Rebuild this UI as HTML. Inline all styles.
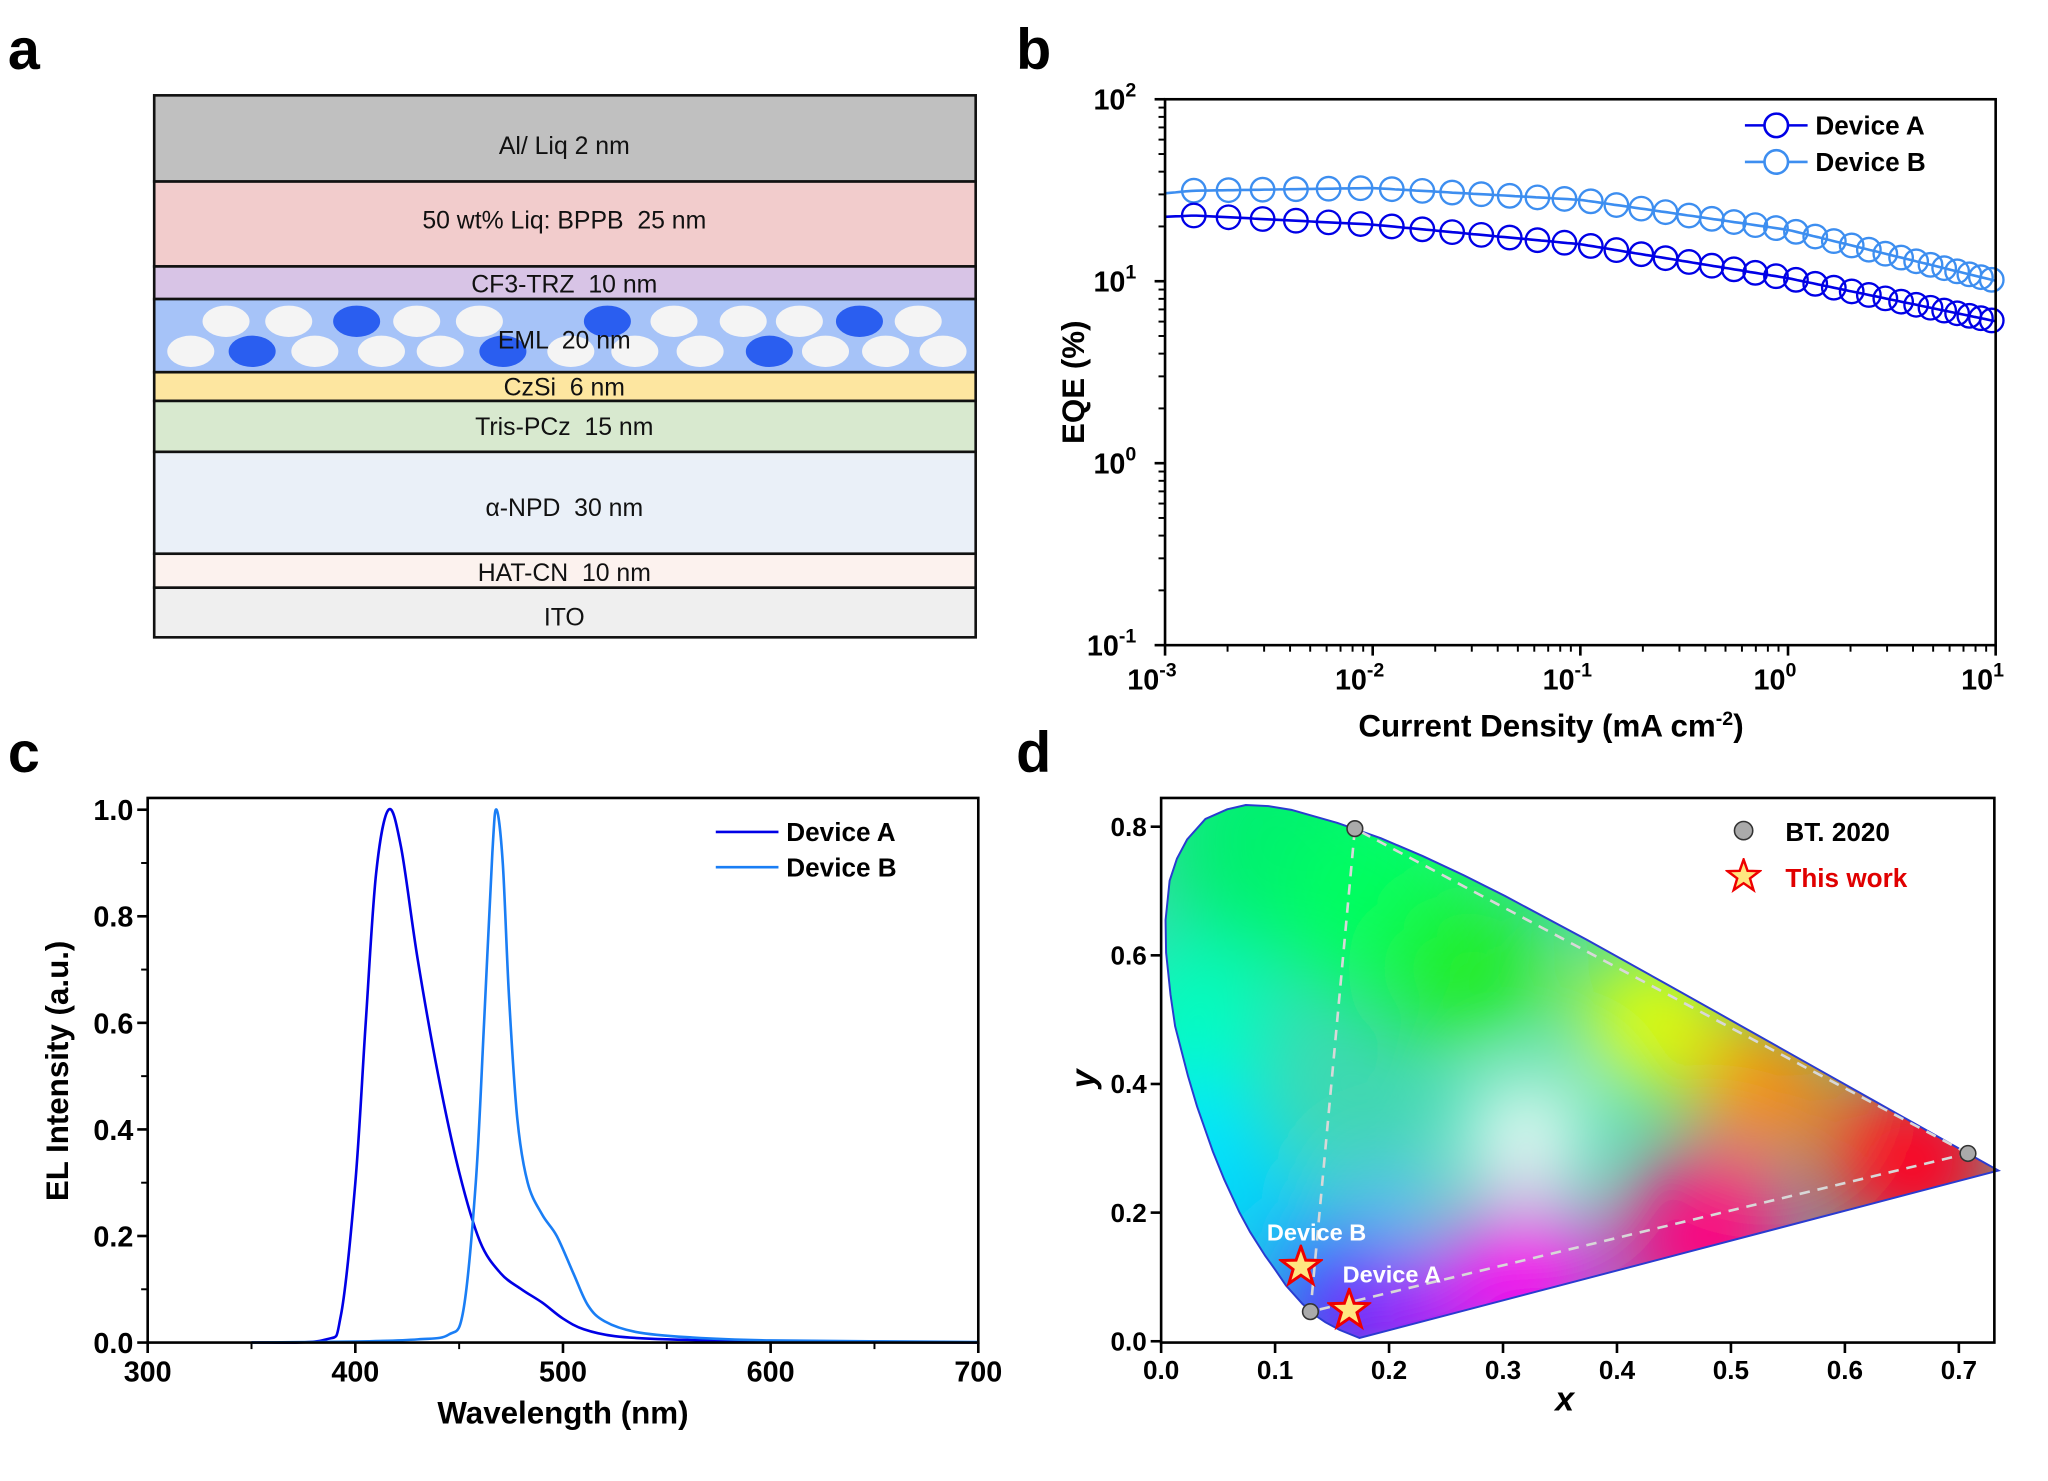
<!DOCTYPE html>
<html><head><meta charset="utf-8"><style>
html,body{margin:0;padding:0;background:#fff}
svg{display:block}
text{font-family:"Liberation Sans",Arial,sans-serif}
</style></head><body>
<svg id="s" width="2048" height="1481" viewBox="0 0 1568 1134" xmlns="http://www.w3.org/2000/svg">
<defs>
<filter id="bl" x="-50%" y="-50%" width="200%" height="200%"><feGaussianBlur stdDeviation="32"/></filter>
<clipPath id="cp"><polygon id="locusClip" points=""/></clipPath>
<symbol id="star" viewBox="-12 -12 24 24"><polygon points="0,-11 2.6,-3.6 10.5,-3.4 4.2,1.4 6.5,9 0,4.5 -6.5,9 -4.2,1.4 -10.5,-3.4 -2.6,-3.6"/></symbol>
</defs>
<g font-weight="bold" font-size="44"><text x="6" y="53">a</text><text x="778" y="53">b</text><text x="6" y="591">c</text><text x="778" y="591">d</text></g>

<g stroke="#111" stroke-width="2" font-size="19" text-anchor="middle">
<rect x="118" y="73" width="629" height="66" fill="#c0c0c0"/>
<rect x="118" y="139" width="629" height="65" fill="#f2cccc"/>
<rect x="118" y="204" width="629" height="25" fill="#d8c4e6"/>
<rect x="118" y="229" width="629" height="56" fill="#a6c3f8"/>
<rect x="118" y="285" width="629" height="22" fill="#fde6a0"/>
<rect x="118" y="307" width="629" height="39" fill="#d8e9cf"/>
<rect x="118" y="346" width="629" height="78" fill="#eaf0f8"/>
<rect x="118" y="424" width="629" height="26" fill="#fcf2ee"/>
<rect x="118" y="450" width="629" height="38" fill="#efefef"/>
</g>
<g id="eml" stroke="none"></g>
<g font-size="19" text-anchor="middle" fill="#111" style="white-space:pre">
<text x="432" y="118">Al/ Liq 2 nm</text>
<text x="432" y="175" xml:space="preserve">50 wt% Liq: BPPB  25 nm</text>
<text x="432" y="224" xml:space="preserve">CF3-TRZ  10 nm</text>
<text x="432" y="267" xml:space="preserve">EML  20 nm</text>
<text x="432" y="303" xml:space="preserve">CzSi  6 nm</text>
<text x="432" y="333" xml:space="preserve">Tris-PCz  15 nm</text>
<text x="432" y="395" xml:space="preserve">α-NPD  30 nm</text>
<text x="432" y="445" xml:space="preserve">HAT-CN  10 nm</text>
<text x="432" y="479">ITO</text>
</g>

<g id="pb"></g>
<rect x="892" y="76" width="636" height="418" fill="none" stroke="#000" stroke-width="2"/>
<g font-weight="bold" font-size="21">
<text x="1040" y="564" font-size="24">Current Density (mA cm<tspan dy="-9" font-size="15">-2</tspan><tspan dy="9">)</tspan></text>
<text transform="translate(830,340) rotate(-90)" font-size="24">EQE (%)</text>
<line x1="1336" y1="96" x2="1384" y2="96" stroke="#0000e6" stroke-width="2"/><circle cx="1360" cy="96" r="9" fill="#fff" stroke="#0000e6" stroke-width="2"/>
<text x="1390" y="103" font-size="20">Device A</text>
<line x1="1336" y1="124" x2="1384" y2="124" stroke="#3d8ef0" stroke-width="2"/><circle cx="1360" cy="124" r="9" fill="#fff" stroke="#3d8ef0" stroke-width="2"/>
<text x="1390" y="131" font-size="20">Device B</text>
</g>

<g id="pc"></g>
<rect x="113" y="611" width="636" height="417" fill="none" stroke="#000" stroke-width="2"/>
<g font-weight="bold">
<text x="431" y="1090" font-size="24" text-anchor="middle">Wavelength (nm)</text>
<text transform="translate(52,820) rotate(-90)" font-size="24" text-anchor="middle">EL Intensity (a.u.)</text>
<line x1="548" y1="637" x2="596" y2="637" stroke="#0000e6" stroke-width="2"/><text x="602" y="644" font-size="20">Device A</text>
<line x1="548" y1="664" x2="596" y2="664" stroke="#1a7ef5" stroke-width="2"/><text x="602" y="671" font-size="20">Device B</text>
</g>

<g clip-path="url(#cp)">
<rect x="880" y="600" width="660" height="440" fill="#40d8b0"/>
<g filter="url(#bl)" id="blobs"></g>
</g>
<polygon id="locusLine" fill="none" stroke="#2a3bd0" stroke-width="1.5" points=""/>
<g id="pd"></g>
<rect x="889" y="611" width="638" height="417" fill="none" stroke="#000" stroke-width="2"/>
<g font-weight="bold">
<text x="1198" y="1080" font-size="26" font-style="italic" text-anchor="middle">x</text>
<text transform="translate(838,826) rotate(-90)" font-size="26" font-style="italic" text-anchor="middle">y</text>
<circle cx="1335" cy="636" r="7" fill="#aaa" stroke="#333" stroke-width="1.2"/>
<text x="1367" y="644" font-size="20">BT. 2020</text>
<use href="#star" x="1321" y="657" width="28" height="28" fill="#ffe680" stroke="#e00" stroke-width="1.6"/>
<text x="1367" y="679" font-size="20" fill="#e00000">This work</text>
<text x="970" y="950" font-size="18" fill="#fff">Device B</text>
<text x="1028" y="982" font-size="18" fill="#fff">Device A</text>
</g>
</svg>
<script>
const NS="http://www.w3.org/2000/svg";
function el(p,t,a,txt){const e=document.createElementNS(NS,t);for(const k in a)e.setAttribute(k,a[k]);if(txt!==undefined)e.textContent=txt;p.appendChild(e);return e;}
const eml=document.getElementById('eml');
[[173,0],[221,0],[273,1],[319,0],[367,0],[465,1],[516,0],[569,0],[612,0],[658,1],[703,0]].forEach(c=>el(eml,'ellipse',{cx:c[0],cy:246,rx:18,ry:12,fill:c[1]?'#2a5ef0':'#f4f4f4'}));
[[146,0],[193,1],[241,0],[292,0],[337,0],[385,1],[437,0],[486,0],[536,0],[589,1],[632,0],[678,0],[722,0]].forEach(c=>el(eml,'ellipse',{cx:c[0],cy:269,rx:18,ry:12,fill:c[1]?'#2a5ef0':'#f4f4f4'}));
const pb=document.getElementById('pb');
const bx=d=>892+(d+3)*159, by=d=>76+(2-d)*139.33;
for(let d=-3;d<=1;d++){const x=bx(d);el(pb,'line',{x1:x,y1:494,x2:x,y2:502,stroke:'#000','stroke-width':2});
 const t=el(pb,'text',{x:x-10,y:528,'font-size':22,'font-weight':'bold','text-anchor':'middle'},'10');el(t,'tspan',{dy:-10,'font-size':15},String(d));
 if(d<1)for(let m=2;m<10;m++){const xm=bx(d+Math.log10(m));el(pb,'line',{x1:xm,y1:494,x2:xm,y2:499,stroke:'#000','stroke-width':1.5});}}
for(let d=-1;d<=2;d++){const y=by(d);el(pb,'line',{x1:884,y1:y,x2:892,y2:y,stroke:'#000','stroke-width':2});
 const t=el(pb,'text',{x:870,y:y+8,'font-size':22,'font-weight':'bold','text-anchor':'end'},'10');el(t,'tspan',{dy:-10,'font-size':15},String(d));
 if(d<2)for(let m=2;m<10;m++){const ym=by(d+Math.log10(m));el(pb,'line',{x1:887,y1:ym,x2:892,y2:ym,stroke:'#000','stroke-width':1.5});}}
function interp(pts,x){for(let i=0;i<pts.length-1;i++){if(x<=pts[i+1][0]){const t=(x-pts[i][0])/(pts[i+1][0]-pts[i][0]);return pts[i][1]+t*(pts[i+1][1]-pts[i][1]);}}return pts[pts.length-1][1];}
const A=[[892,166],[914,165],[1051,172],[1210,187],[1369,213],[1528,246]];
const B=[[892,148],[914,146],[1051,144],[1210,153],[1369,176],[1528,215]];
function series(P,col){const n=36,a=0.46;let xs=[];for(let i=0;i<n;i++){const s=i/(n-1);xs.push(914+611*(a*s+(1-a)*(1-(1-s)*(1-s))));}
 let d='M892,'+interp(P,892);for(let x=892;x<=1528;x+=4)d+=' L'+x+','+interp(P,x).toFixed(1);
 el(pb,'path',{d:d,fill:'none',stroke:col,'stroke-width':2});
 xs.forEach(x=>el(pb,'circle',{cx:x,cy:interp(P,x),r:9,fill:'none',stroke:col,'stroke-width':1.8}));}
series(B,'#3d8ef0');series(A,'#0000e6');
const pc=document.getElementById('pc');
const cx=l=>113+(l-300)*1.59, cy=v=>1028-v*408;
for(let l=300;l<=700;l+=100){el(pc,'line',{x1:cx(l),y1:1028,x2:cx(l),y2:1036,stroke:'#000','stroke-width':2});el(pc,'text',{x:cx(l),y:1058,'font-size':22,'font-weight':'bold','text-anchor':'middle'},String(l));
 if(l<700)el(pc,'line',{x1:cx(l+50),y1:1028,x2:cx(l+50),y2:1033,stroke:'#000','stroke-width':1.5});}
for(let i=0;i<=5;i++){const v=i*0.2;el(pc,'line',{x1:105,y1:cy(v),x2:113,y2:cy(v),stroke:'#000','stroke-width':2});el(pc,'text',{x:102,y:cy(v)+8,'font-size':22,'font-weight':'bold','text-anchor':'end'},v.toFixed(1));
 if(i<5)el(pc,'line',{x1:108,y1:cy(v+0.1),x2:113,y2:cy(v+0.1),stroke:'#000','stroke-width':1.5});}
function spline(pts){let d='';for(let i=0;i<pts.length;i++){if(i==0){d='M'+[cx(pts[0][0]),cy(pts[0][1])];continue;}
 const p0=pts[Math.max(0,i-2)],p1=pts[i-1],p2=pts[i],p3=pts[Math.min(pts.length-1,i+1)];
 const P=q=>[cx(q[0]),cy(q[1])];const a0=P(p0),a1=P(p1),a2=P(p2),a3=P(p3);
 const c1=[a1[0]+(a2[0]-a0[0])/6,a1[1]+(a2[1]-a0[1])/6],c2=[a2[0]-(a3[0]-a1[0])/6,a2[1]-(a3[1]-a1[1])/6];
 d+=' C'+c1+' '+c2+' '+a2;}return d;}
const SA=[[350,0],[385,0.005],[393,0.05],[400,0.3],[405,0.6],[410,0.88],[416,1.0],[422,0.93],[430,0.72],[440,0.5],[450,0.32],[460,0.19],[470,0.13],[480,0.1],[490,0.075],[500,0.045],[510,0.025],[525,0.012],[550,0.006],[600,0.002],[700,0]];
const SB=[[350,0],[400,0.002],[430,0.006],[445,0.015],[452,0.06],[458,0.3],[462,0.6],[466,0.92],[468,1.0],[471,0.9],[474,0.65],[478,0.42],[483,0.3],[490,0.24],[497,0.2],[505,0.13],[512,0.07],[520,0.04],[535,0.02],[560,0.01],[600,0.004],[700,0.001]];
el(pc,'path',{d:spline(SA),fill:'none',stroke:'#0000e6','stroke-width':2});
el(pc,'path',{d:spline(SB),fill:'none',stroke:'#1a7ef5','stroke-width':2});
const pd=document.getElementById('pd');
const dx=x=>889+x*872.6, dy=y=>1027-y*492.5;
for(let i=0;i<=7;i++){const v=i/10;el(pd,'line',{x1:dx(v),y1:1028,x2:dx(v),y2:1036,stroke:'#000','stroke-width':2});el(pd,'text',{x:dx(v),y:1056,'font-size':20,'font-weight':'bold','text-anchor':'middle'},v.toFixed(1));}
for(let i=0;i<=4;i++){const v=i*0.2;el(pd,'line',{x1:881,y1:dy(v),x2:889,y2:dy(v),stroke:'#000','stroke-width':2});el(pd,'text',{x:878,y:dy(v)+7,'font-size':20,'font-weight':'bold','text-anchor':'end'},v.toFixed(1));}
const L=[[0.1741,0.0050],[0.1566,0.0177],[0.1440,0.0297],[0.1355,0.0399],[0.1241,0.0578],[0.1096,0.0868],[0.0996,0.1124],[0.0913,0.1327],[0.0780,0.1700],[0.0687,0.2007],[0.0554,0.2516],[0.0454,0.2950],[0.0315,0.3650],[0.0235,0.4127],[0.0123,0.4900],[0.0082,0.5384],[0.0043,0.6040],[0.0039,0.6548],[0.0074,0.7160],[0.0139,0.7502],[0.0228,0.7800],[0.0389,0.8120],[0.0580,0.8270],[0.0743,0.8338],[0.0940,0.8320],[0.1142,0.8262],[0.1547,0.8059],[0.1930,0.7820],[0.2296,0.7543],[0.2658,0.7243],[0.3016,0.6923],[0.3731,0.6245],[0.4441,0.5547],[0.5125,0.4866],[0.5752,0.4242],[0.6270,0.3725],[0.6915,0.3083],[0.7347,0.2653]];
const pts=L.map(p=>dx(p[0]).toFixed(1)+','+dy(p[1]).toFixed(1)).join(' ');
document.getElementById('locusClip').setAttribute('points',pts);document.getElementById('locusLine').setAttribute('points',pts);
const blobs=document.getElementById('blobs');
[[0.1,0.78,'#00f070',90],[0.2,0.68,'#00ff60',80],[0.27,0.58,'#20ee20',60],[0.03,0.5,'#00ffc0',60],[0.03,0.3,'#00e8ff',60],[0.08,0.2,'#00d0ff',50],[0.15,0.06,'#3020ff',55],[0.22,0.04,'#a000ff',50],[0.32,0.1,'#ff00f0',60],[0.48,0.16,'#ff0080',70],[0.66,0.28,'#ff0020',70],[0.53,0.4,'#ff8800',55],[0.43,0.5,'#e8ff00',55],[0.32,0.32,'#ffffff',45],[0.2,0.22,'#60c0ff',35]].forEach(b=>el(blobs,'circle',{cx:dx(b[0]),cy:dy(b[1]),r:b[3],fill:b[2]}));
const bt=[[0.708,0.292],[0.170,0.797],[0.131,0.046]];
el(pd,'polygon',{points:bt.map(p=>dx(p[0])+','+dy(p[1])).join(' '),fill:'none',stroke:'#d8d8d8','stroke-width':2,'stroke-dasharray':'8,6'});
bt.forEach(p=>el(pd,'circle',{cx:dx(p[0]),cy:dy(p[1]),r:6,fill:'#aaa',stroke:'#333','stroke-width':1.2}));
[[996,970],[1033,1003]].forEach(s=>el(pd,'use',{href:'#star',x:s[0]-17,y:s[1]-17,width:34,height:34,fill:'#ffe680',stroke:'#e00','stroke-width':1.6}));
</script>
</body></html>
